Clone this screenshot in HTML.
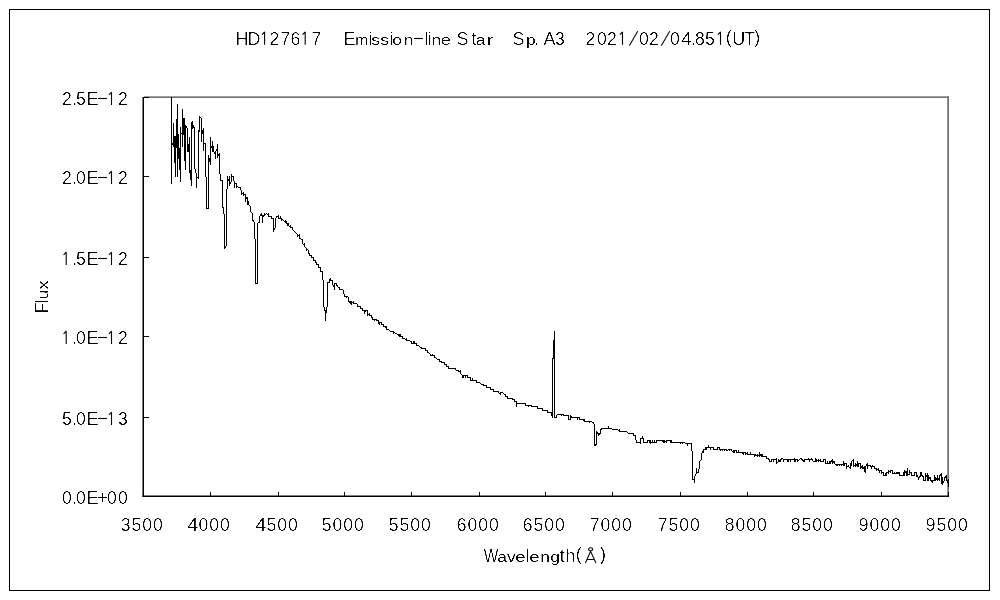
<!DOCTYPE html>
<html><head><meta charset="utf-8"><title>HD127617 spectrum</title>
<style>
html,body{margin:0;padding:0;background:#fff;}
body{width:1000px;height:600px;overflow:hidden;position:relative;}
svg{position:absolute;left:0;top:0;display:block;}
text{font-family:"Liberation Sans",sans-serif;font-size:18px;fill:#000;text-anchor:middle;}
.s{font-size:15.5px;}
</style></head><body>
<svg width="1000" height="600" viewBox="0 0 1000 600">
<defs><filter id="t" x="0" y="0" width="1000" height="600" filterUnits="userSpaceOnUse" color-interpolation-filters="sRGB"><feComponentTransfer><feFuncA type="linear" slope="3.4" intercept="-1.7"/></feComponentTransfer></filter><filter id="t3" x="0" y="0" width="1000" height="600" filterUnits="userSpaceOnUse" color-interpolation-filters="sRGB"><feComponentTransfer><feFuncA type="linear" slope="3" intercept="-1.25"/></feComponentTransfer></filter><filter id="t2" x="570" y="540" width="40" height="30" filterUnits="userSpaceOnUse" color-interpolation-filters="sRGB"><feComponentTransfer><feFuncA type="linear" slope="2.2" intercept="-0.55"/></feComponentTransfer></filter></defs>
<title>HD127617 Emission-line Star Sp. A3 2021/02/04.851(UT)</title>
<desc>Spectrum chart: Flux (0.0E+00 to 2.5E-12) versus Wavelength(Å) from 3500 to 9500.</desc>
<rect x="0" y="0" width="1000" height="600" fill="#fff"/>
<rect x="9.5" y="9.5" width="980" height="581" fill="none" stroke="#000" stroke-width="1"/>
<rect x="144" y="96.3" width="805" height="1.7" fill="#757575"/>
<rect x="947.2" y="96.3" width="1.8" height="400" fill="#757575"/>
<rect x="142.5" y="97" width="1.5" height="400" fill="#000"/>
<rect x="142.5" y="495.5" width="806.5" height="1.5" fill="#000"/>
<path d="M210 492h1v4h-1zM278 492h1v4h-1zM344 492h1v4h-1zM411 492h1v4h-1zM479 492h1v4h-1zM545 492h1v4h-1zM612 492h1v4h-1zM680 492h1v4h-1zM747 492h1v4h-1zM813 492h1v4h-1zM881 492h1v4h-1zM948 492h1v4h-1zM144 97h5v1h-5zM144 176h5v1h-5zM144 257h5v1h-5zM144 336h5v1h-5zM144 417h5v1h-5z" fill="#000" shape-rendering="crispEdges"/>
<path d="M171 97v87h1v-87zM172 143v2h1v-2zM173 123v24h1v-24zM174 136v27h1v-27zM175 136v41h1v-41zM176 119v29h1v-29zM177 104v73h1v-73zM178 134v25h1v-25zM179 148v22h1v-22zM180 127v55h1v-55zM181 133v1h1v-1zM182 109v38h1v-38zM183 118v17h1v-17zM184 118v43h1v-43zM185 125v45h1v-45zM186 126v2h1v-2zM187 128v24h1v-24zM188 144v8h1v-8zM189 137v36h1v-36zM190 170v10h1v-10zM191 122v64h1v-64zM192 121v8h1v-8zM193 125v3h1v-3zM194 127v42h1v-42zM195 169v4h1v-4zM196 173v15h1v-15zM197 177v1h1v-1zM198 130v49h1v-49zM199 116v16h1v-16zM200 117v1h1v-1zM201 118v24h1v-24zM202 130v4h1v-4zM203 128v23h1v-23zM204 143v1h1v-1zM205 143v34h1v-34zM206 177v32h1v-32zM207 208v1h1v-1zM208 155v54h1v-54zM209 158v4h1v-4zM210 137v28h1v-28zM211 146v2h1v-2zM212 141v11h1v-11zM213 146v6h1v-6zM214 152v2h1v-2zM215 151v8h1v-8zM216 149v2h1v-2zM217 144v14h1v-14zM218 154v2h1v-2zM219 153v21h1v-21zM220 174v7h1v-7zM221 180v1h1v-1zM222 180v28h1v-28zM223 207v7h1v-7zM224 214v35h1v-35zM225 246v2h1v-2zM226 189v57h1v-57zM227 176v13h1v-13zM228 179v2h1v-2zM229 176v10h1v-10zM230 182v2h1v-2zM231 174v8h1v-8zM232 176v1h1v-1zM233 176v5h1v-5zM234 181v7h1v-7zM235 183v1h1v-1zM236 183v5h1v-5zM237 186v1h1v-1zM238 187v1h1v-1zM239 187v1h1v-1zM240 187v3h1v-3zM241 190v5h1v-5zM242 193v1h1v-1zM243 192v4h1v-4zM244 194v1h1v-1zM245 194v8h1v-8zM246 197v2h1v-2zM247 197v8h1v-8zM248 201v4h1v-4zM249 205v1h1v-1zM250 206v6h1v-6zM251 212v1h1v-1zM252 213v8h1v-8zM253 220v2h1v-2zM254 222v17h1v-17zM255 239v45h1v-45zM256 283v1h1v-1zM257 223v61h1v-61zM258 222v1h1v-1zM259 216v7h1v-7zM260 214v2h1v-2zM261 213v3h1v-3zM262 215v8h1v-8zM263 215v2h1v-2zM264 213v3h1v-3zM265 214v1h1v-1zM266 213v1h1v-1zM267 214v1h1v-1zM268 213v4h1v-4zM269 216v1h1v-1zM270 216v1h1v-1zM271 216v3h1v-3zM272 218v1h1v-1zM273 218v14h1v-14zM274 228v2h1v-2zM275 218v10h1v-10zM276 216v2h1v-2zM277 216v1h1v-1zM278 215v4h1v-4zM279 218v1h1v-1zM280 216v3h1v-3zM281 218v3h1v-3zM282 219v1h1v-1zM283 220v1h1v-1zM284 221v1h1v-1zM285 220v3h1v-3zM286 221v3h1v-3zM287 223v3h1v-3zM288 223v3h1v-3zM289 226v1h1v-1zM290 225v3h1v-3zM291 227v1h1v-1zM292 227v3h1v-3zM293 230v1h1v-1zM294 231v1h1v-1zM295 232v1h1v-1zM296 233v1h1v-1zM297 234v3h1v-3zM298 235v1h1v-1zM299 234v5h1v-5zM300 238v1h1v-1zM301 239v1h1v-1zM302 239v5h1v-5zM303 244v1h1v-1zM304 243v4h1v-4zM305 247v1h1v-1zM306 248v3h1v-3zM307 249v1h1v-1zM308 250v4h1v-4zM309 253v3h1v-3zM310 255v1h1v-1zM311 255v3h1v-3zM312 257v1h1v-1zM313 257v4h1v-4zM314 260v1h1v-1zM315 260v3h1v-3zM316 262v3h1v-3zM317 264v1h1v-1zM318 264v4h1v-4zM319 267v1h1v-1zM320 267v5h1v-5zM321 271v1h1v-1zM322 271v9h1v-9zM323 280v27h1v-27zM324 307v4h1v-4zM325 310v11h1v-11zM326 307v6h1v-6zM327 282v25h1v-25zM328 282v1h1v-1zM329 279v4h1v-4zM330 278v3h1v-3zM331 280v1h1v-1zM332 280v5h1v-5zM333 285v2h1v-2zM334 283v7h1v-7zM335 283v1h1v-1zM336 283v3h1v-3zM337 285v2h1v-2zM338 287v1h1v-1zM339 287v3h1v-3zM340 289v1h1v-1zM341 289v1h1v-1zM342 289v1h1v-1zM343 290v4h1v-4zM344 294v3h1v-3zM345 296v1h1v-1zM346 296v2h1v-2zM347 296v1h1v-1zM348 297v5h1v-5zM349 301v2h1v-2zM350 301v3h1v-3zM351 301v4h1v-4zM352 302v1h1v-1zM353 301v3h1v-3zM354 303v1h1v-1zM355 303v1h1v-1zM356 303v1h1v-1zM357 304v3h1v-3zM358 306v1h1v-1zM359 306v1h1v-1zM360 306v3h1v-3zM361 308v1h1v-1zM362 308v3h1v-3zM363 310v1h1v-1zM364 310v4h1v-4zM365 310v2h1v-2zM366 310v1h1v-1zM367 310v6h1v-6zM368 314v1h1v-1zM369 313v3h1v-3zM370 315v1h1v-1zM371 315v3h1v-3zM372 317v3h1v-3zM373 319v1h1v-1zM374 319v2h1v-2zM375 319v1h1v-1zM376 319v2h1v-2zM377 320v1h1v-1zM378 320v4h1v-4zM379 322v3h1v-3zM380 322v1h1v-1zM381 322v3h1v-3zM382 324v1h1v-1zM383 324v3h1v-3zM384 326v1h1v-1zM385 326v2h1v-2zM386 326v4h1v-4zM387 329v1h1v-1zM388 329v1h1v-1zM389 330v1h1v-1zM390 331v1h1v-1zM391 331v1h1v-1zM392 331v1h1v-1zM393 331v3h1v-3zM394 332v1h1v-1zM395 333v1h1v-1zM396 333v1h1v-1zM397 334v1h1v-1zM398 334v2h1v-2zM399 334v3h1v-3zM400 334v3h1v-3zM401 336v1h1v-1zM402 336v3h1v-3zM403 338v1h1v-1zM404 338v1h1v-1zM405 339v1h1v-1zM406 338v3h1v-3zM407 340v1h1v-1zM408 340v1h1v-1zM409 340v1h1v-1zM410 341v1h1v-1zM411 341v3h1v-3zM412 343v1h1v-1zM413 341v3h1v-3zM414 341v3h1v-3zM415 343v1h1v-1zM416 343v3h1v-3zM417 345v1h1v-1zM418 345v1h1v-1zM419 346v1h1v-1zM420 347v1h1v-1zM421 347v2h1v-2zM422 348v1h1v-1zM423 348v1h1v-1zM424 348v1h1v-1zM425 348v3h1v-3zM426 350v1h1v-1zM427 350v3h1v-3zM428 352v1h1v-1zM429 353v1h1v-1zM430 354v2h1v-2zM431 355v1h1v-1zM432 354v2h1v-2zM433 355v1h1v-1zM434 355v3h1v-3zM435 357v1h1v-1zM436 358v1h1v-1zM437 359v1h1v-1zM438 359v1h1v-1zM439 359v3h1v-3zM440 361v1h1v-1zM441 361v2h1v-2zM442 362v1h1v-1zM443 362v1h1v-1zM444 362v3h1v-3zM445 364v1h1v-1zM446 364v3h1v-3zM447 366v1h1v-1zM448 366v3h1v-3zM449 368v1h1v-1zM450 368v1h1v-1zM451 368v1h1v-1zM452 368v1h1v-1zM453 368v1h1v-1zM454 368v1h1v-1zM455 368v2h1v-2zM456 370v1h1v-1zM457 370v1h1v-1zM458 370v2h1v-2zM459 371v1h1v-1zM460 370v4h1v-4zM461 374v1h1v-1zM462 375v3h1v-3zM463 375v3h1v-3zM464 375v1h1v-1zM465 375v3h1v-3zM466 375v1h1v-1zM467 375v3h1v-3zM468 377v1h1v-1zM469 377v1h1v-1zM470 377v4h1v-4zM471 380v1h1v-1zM472 378v3h1v-3zM473 380v1h1v-1zM474 380v1h1v-1zM475 380v1h1v-1zM476 380v3h1v-3zM477 382v1h1v-1zM478 382v1h1v-1zM479 382v1h1v-1zM480 383v1h1v-1zM481 384v1h1v-1zM482 384v1h1v-1zM483 384v2h1v-2zM484 385v1h1v-1zM485 385v1h1v-1zM486 385v3h1v-3zM487 387v1h1v-1zM488 387v1h1v-1zM489 387v1h1v-1zM490 387v3h1v-3zM491 389v1h1v-1zM492 389v1h1v-1zM493 389v3h1v-3zM494 391v1h1v-1zM495 391v1h1v-1zM496 391v1h1v-1zM497 391v1h1v-1zM498 391v2h1v-2zM499 393v1h1v-1zM500 392v3h1v-3zM501 392v1h1v-1zM502 392v1h1v-1zM503 393v1h1v-1zM504 394v1h1v-1zM505 394v3h1v-3zM506 396v1h1v-1zM507 396v3h1v-3zM508 398v1h1v-1zM509 398v1h1v-1zM510 398v1h1v-1zM511 398v1h1v-1zM512 398v2h1v-2zM513 399v1h1v-1zM514 399v3h1v-3zM515 401v1h1v-1zM516 401v6h1v-6zM517 403v1h1v-1zM518 403v1h1v-1zM519 403v1h1v-1zM520 403v1h1v-1zM521 403v1h1v-1zM522 403v1h1v-1zM523 403v1h1v-1zM524 403v1h1v-1zM525 403v3h1v-3zM526 405v1h1v-1zM527 405v1h1v-1zM528 405v2h1v-2zM529 405v1h1v-1zM530 405v1h1v-1zM531 405v2h1v-2zM532 406v1h1v-1zM533 406v1h1v-1zM534 406v1h1v-1zM535 406v1h1v-1zM536 406v1h1v-1zM537 406v3h1v-3zM538 408v1h1v-1zM539 408v1h1v-1zM540 408v1h1v-1zM541 408v1h1v-1zM542 408v3h1v-3zM543 410v1h1v-1zM544 410v1h1v-1zM545 410v1h1v-1zM546 410v1h1v-1zM547 410v3h1v-3zM548 412v1h1v-1zM549 412v1h1v-1zM550 412v1h1v-1zM551 412v4h1v-4zM552 358v60h1v-60zM553 340v19h1v-19zM554 331v87h1v-87zM555 417v1h1v-1zM556 415v3h1v-3zM557 414v1h1v-1zM558 414v1h1v-1zM559 414v1h1v-1zM560 414v1h1v-1zM561 414v2h1v-2zM562 414v1h1v-1zM563 414v2h1v-2zM564 415v1h1v-1zM565 415v1h1v-1zM566 415v1h1v-1zM567 415v1h1v-1zM568 415v5h1v-5zM569 419v1h1v-1zM570 415v5h1v-5zM571 416v2h1v-2zM572 417v1h1v-1zM573 417v1h1v-1zM574 417v1h1v-1zM575 417v1h1v-1zM576 417v1h1v-1zM577 417v3h1v-3zM578 417v1h1v-1zM579 417v3h1v-3zM580 419v1h1v-1zM581 419v1h1v-1zM582 419v1h1v-1zM583 419v2h1v-2zM584 419v3h1v-3zM585 421v1h1v-1zM586 421v1h1v-1zM587 421v1h1v-1zM588 421v1h1v-1zM589 421v2h1v-2zM590 421v1h1v-1zM591 421v1h1v-1zM592 422v1h1v-1zM593 422v2h1v-2zM594 424v22h1v-22zM595 444v2h1v-2zM596 431v14h1v-14zM597 432v2h1v-2zM598 433v3h1v-3zM599 433v2h1v-2zM600 429v5h1v-5zM601 428v2h1v-2zM602 428v1h1v-1zM603 428v1h1v-1zM604 428v1h1v-1zM605 428v1h1v-1zM606 428v1h1v-1zM607 428v1h1v-1zM608 426v3h1v-3zM609 428v1h1v-1zM610 428v1h1v-1zM611 428v1h1v-1zM612 429v1h1v-1zM613 429v1h1v-1zM614 429v1h1v-1zM615 429v1h1v-1zM616 429v1h1v-1zM617 429v1h1v-1zM618 430v1h1v-1zM619 429v3h1v-3zM620 431v1h1v-1zM621 431v1h1v-1zM622 431v1h1v-1zM623 431v1h1v-1zM624 431v1h1v-1zM625 431v1h1v-1zM626 431v1h1v-1zM627 432v1h1v-1zM628 433v1h1v-1zM629 433v1h1v-1zM630 433v1h1v-1zM631 433v1h1v-1zM632 433v1h1v-1zM633 433v3h1v-3zM634 435v1h1v-1zM635 435v5h1v-5zM636 440v3h1v-3zM637 442v1h1v-1zM638 442v1h1v-1zM639 442v1h1v-1zM640 438v6h1v-6zM641 438v1h1v-1zM642 436v3h1v-3zM643 438v5h1v-5zM644 442v1h1v-1zM645 442v1h1v-1zM646 442v1h1v-1zM647 440v3h1v-3zM648 440v1h1v-1zM649 440v3h1v-3zM650 440v4h1v-4zM651 442v1h1v-1zM652 440v3h1v-3zM653 442v1h1v-1zM654 440v3h1v-3zM655 442v1h1v-1zM656 440v3h1v-3zM657 440v1h1v-1zM658 440v1h1v-1zM659 440v1h1v-1zM660 440v1h1v-1zM661 440v1h1v-1zM662 440v2h1v-2zM663 440v3h1v-3zM664 440v3h1v-3zM665 441v1h1v-1zM666 440v3h1v-3zM667 440v1h1v-1zM668 440v1h1v-1zM669 440v1h1v-1zM670 440v3h1v-3zM671 440v3h1v-3zM672 442v1h1v-1zM673 442v1h1v-1zM674 442v1h1v-1zM675 442v1h1v-1zM676 442v1h1v-1zM677 442v1h1v-1zM678 442v1h1v-1zM679 442v1h1v-1zM680 442v2h1v-2zM681 442v1h1v-1zM682 442v2h1v-2zM683 442v1h1v-1zM684 442v1h1v-1zM685 443v1h1v-1zM686 443v1h1v-1zM687 443v3h1v-3zM688 443v1h1v-1zM689 443v1h1v-1zM690 443v1h1v-1zM691 443v8h1v-8zM692 451v29h1v-29zM693 479v1h1v-1zM694 476v7h1v-7zM695 474v2h1v-2zM696 468v6h1v-6zM697 472v1h1v-1zM698 469v4h1v-4zM699 461v8h1v-8zM700 460v1h1v-1zM701 453v7h1v-7zM702 451v2h1v-2zM703 449v4h1v-4zM704 449v1h1v-1zM705 447v3h1v-3zM706 447v3h1v-3zM707 447v1h1v-1zM708 445v3h1v-3zM709 447v1h1v-1zM710 447v3h1v-3zM711 447v1h1v-1zM712 447v1h1v-1zM713 447v3h1v-3zM714 449v1h1v-1zM715 449v1h1v-1zM716 449v1h1v-1zM717 447v3h1v-3zM718 447v1h1v-1zM719 447v3h1v-3zM720 449v2h1v-2zM721 449v1h1v-1zM722 449v2h1v-2zM723 449v1h1v-1zM724 449v2h1v-2zM725 449v1h1v-1zM726 449v2h1v-2zM727 450v1h1v-1zM728 449v1h1v-1zM729 449v2h1v-2zM730 449v1h1v-1zM731 449v2h1v-2zM732 451v1h1v-1zM733 450v3h1v-3zM734 450v3h1v-3zM735 450v1h1v-1zM736 450v3h1v-3zM737 452v1h1v-1zM738 450v3h1v-3zM739 452v1h1v-1zM740 452v1h1v-1zM741 452v1h1v-1zM742 452v2h1v-2zM743 452v3h1v-3zM744 452v1h1v-1zM745 452v3h1v-3zM746 453v1h1v-1zM747 452v3h1v-3zM748 454v1h1v-1zM749 454v1h1v-1zM750 452v3h1v-3zM751 454v1h1v-1zM752 454v1h1v-1zM753 454v1h1v-1zM754 454v3h1v-3zM755 454v2h1v-2zM756 455v1h1v-1zM757 454v3h1v-3zM758 455v1h1v-1zM759 452v5h1v-5zM760 454v2h1v-2zM761 454v3h1v-3zM762 454v3h1v-3zM763 456v1h1v-1zM764 456v1h1v-1zM765 456v1h1v-1zM766 456v3h1v-3zM767 458v1h1v-1zM768 458v2h1v-2zM769 459v3h1v-3zM770 461v1h1v-1zM771 459v3h1v-3zM772 459v1h1v-1zM773 459v3h1v-3zM774 459v1h1v-1zM775 459v1h1v-1zM776 458v6h1v-6zM777 462v1h1v-1zM778 459v3h1v-3zM779 460v2h1v-2zM780 459v3h1v-3zM781 458v2h1v-2zM782 458v1h1v-1zM783 459v3h1v-3zM784 459v1h1v-1zM785 459v1h1v-1zM786 459v1h1v-1zM787 459v3h1v-3zM788 459v3h1v-3zM789 459v1h1v-1zM790 459v3h1v-3zM791 459v1h1v-1zM792 459v1h1v-1zM793 459v1h1v-1zM794 458v4h1v-4zM795 459v3h1v-3zM796 459v1h1v-1zM797 459v3h1v-3zM798 460v1h1v-1zM799 459v1h1v-1zM800 458v1h1v-1zM801 458v2h1v-2zM802 459v2h1v-2zM803 460v2h1v-2zM804 459v3h1v-3zM805 459v1h1v-1zM806 459v1h1v-1zM807 459v1h1v-1zM808 458v2h1v-2zM809 459v3h1v-3zM810 459v1h1v-1zM811 458v2h1v-2zM812 459v2h1v-2zM813 461v1h1v-1zM814 461v1h1v-1zM815 458v4h1v-4zM816 459v3h1v-3zM817 460v1h1v-1zM818 459v3h1v-3zM819 460v1h1v-1zM820 459v3h1v-3zM821 461v1h1v-1zM822 461v1h1v-1zM823 459v3h1v-3zM824 459v1h1v-1zM825 459v5h1v-5zM826 463v1h1v-1zM827 461v3h1v-3zM828 463v1h1v-1zM829 461v3h1v-3zM830 461v3h1v-3zM831 460v2h1v-2zM832 459v5h1v-5zM833 461v2h1v-2zM834 461v3h1v-3zM835 464v1h1v-1zM836 464v2h1v-2zM837 464v2h1v-2zM838 464v1h1v-1zM839 464v2h1v-2zM840 464v1h1v-1zM841 464v2h1v-2zM842 464v1h1v-1zM843 461v5h1v-5zM844 463v3h1v-3zM845 463v1h1v-1zM846 463v6h1v-6zM847 466v1h1v-1zM848 465v2h1v-2zM849 467v1h1v-1zM850 463v6h1v-6zM851 461v5h1v-5zM852 460v1h1v-1zM853 459v8h1v-8zM854 465v1h1v-1zM855 463v4h1v-4zM856 464v2h1v-2zM857 461v6h1v-6zM858 463v4h1v-4zM859 463v1h1v-1zM860 463v6h1v-6zM861 466v2h1v-2zM862 465v4h1v-4zM863 467v2h1v-2zM864 466v6h1v-6zM865 466v7h1v-7zM866 464v2h1v-2zM867 463v6h1v-6zM868 465v1h1v-1zM869 465v1h1v-1zM870 465v2h1v-2zM871 466v3h1v-3zM872 465v2h1v-2zM873 466v1h1v-1zM874 466v3h1v-3zM875 468v1h1v-1zM876 468v3h1v-3zM877 469v1h1v-1zM878 468v3h1v-3zM879 470v3h1v-3zM880 470v1h1v-1zM881 470v4h1v-4zM882 472v1h1v-1zM883 472v4h1v-4zM884 475v1h1v-1zM885 473v3h1v-3zM886 472v4h1v-4zM887 472v1h1v-1zM888 470v4h1v-4zM889 471v1h1v-1zM890 470v3h1v-3zM891 470v1h1v-1zM892 470v4h1v-4zM893 473v1h1v-1zM894 472v2h1v-2zM895 473v1h1v-1zM896 472v2h1v-2zM897 472v2h1v-2zM898 472v2h1v-2zM899 472v4h1v-4zM900 475v1h1v-1zM901 475v1h1v-1zM902 475v1h1v-1zM903 472v4h1v-4zM904 470v6h1v-6zM905 471v2h1v-2zM906 471v5h1v-5zM907 468v8h1v-8zM908 474v1h1v-1zM909 470v5h1v-5zM910 472v1h1v-1zM911 472v4h1v-4zM912 475v1h1v-1zM913 475v1h1v-1zM914 472v4h1v-4zM915 472v1h1v-1zM916 472v5h1v-5zM917 475v2h1v-2zM918 477v3h1v-3zM919 476v2h1v-2zM920 472v5h1v-5zM921 472v4h1v-4zM922 475v2h1v-2zM923 476v5h1v-5zM924 480v1h1v-1zM925 473v8h1v-8zM926 475v2h1v-2zM927 473v8h1v-8zM928 475v6h1v-6zM929 477v2h1v-2zM930 477v4h1v-4zM931 480v2h1v-2zM932 480v3h1v-3zM933 480v1h1v-1zM934 475v6h1v-6zM935 477v4h1v-4zM936 478v2h1v-2zM937 475v6h1v-6zM938 478v2h1v-2zM939 475v6h1v-6zM940 474v2h1v-2zM941 473v11h1v-11zM942 477v8h1v-8zM943 481v2h1v-2zM944 477v4h1v-4zM945 476v2h1v-2zM946 475v6h1v-6zM947 480v3h1v-3zM948 479v8h1v-8z" fill="#000" shape-rendering="crispEdges"/>
<g filter="url(#t)">
<text x="241.90" y="44.80">H</text><text x="253.90" y="44.80">D</text><text transform="translate(274.50,44.80) scale(0.98,1)">2</text><text transform="translate(285.50,44.80) scale(0.98,1)">7</text><text transform="translate(295.50,44.80) scale(0.98,1)">6</text><text transform="translate(316.50,44.80) scale(0.98,1)">7</text>
<text x="349.40" y="44.80">E</text><text x="370.60" y="44.80">i</text><text x="391.70" y="44.80">i</text><text x="426.60" y="44.80">l</text><text x="429.70" y="44.80">i</text>
<text x="462.50" y="44.80">S</text><text transform="translate(474.00,44.80) scale(1.08,1)">t</text>
<text x="518.50" y="44.80">S</text><text x="536.60" y="44.80">.</text>
<text x="549.50" y="44.80">A</text><text transform="translate(560.00,44.80) scale(0.98,1)">3</text>
<text transform="translate(590.40,44.80) scale(0.98,1)">2</text><text transform="translate(602.00,44.80) scale(0.98,1)">0</text><text transform="translate(611.90,44.80) scale(0.98,1)">2</text><text transform="translate(644.00,44.80) scale(0.98,1)">0</text><text transform="translate(653.90,44.80) scale(0.98,1)">2</text><text transform="translate(675.00,44.80) scale(0.98,1)">0</text><text transform="translate(686.50,44.80) scale(1.1,1)">4</text><text x="693.50" y="44.80">.</text><text transform="translate(699.90,44.80) scale(0.98,1)">8</text><text transform="translate(709.90,44.80) scale(0.98,1)">5</text><text x="728.80" y="42.70">(</text><text x="738.75" y="44.80">U</text><text x="749.50" y="44.80">T</text><text x="757.20" y="42.70">)</text>
<text transform="translate(66.90,105.00) scale(0.98,1)">2</text><text x="74.60" y="105.00">.</text><text transform="translate(81.00,105.00) scale(0.98,1)">5</text><text x="92.50" y="105.00">E</text><text transform="translate(123.00,105.00) scale(0.98,1)">2</text>
<text transform="translate(66.90,184.00) scale(0.98,1)">2</text><text x="74.60" y="184.00">.</text><text transform="translate(81.00,184.00) scale(0.98,1)">0</text><text x="92.50" y="184.00">E</text><text transform="translate(123.00,184.00) scale(0.98,1)">2</text>
<text x="74.60" y="265.00">.</text><text transform="translate(81.00,265.00) scale(0.98,1)">5</text><text x="92.50" y="265.00">E</text><text transform="translate(123.00,265.00) scale(0.98,1)">2</text>
<text x="74.60" y="344.00">.</text><text transform="translate(81.00,344.00) scale(0.98,1)">0</text><text x="92.50" y="344.00">E</text><text transform="translate(123.00,344.00) scale(0.98,1)">2</text>
<text transform="translate(66.90,425.00) scale(0.98,1)">5</text><text x="74.60" y="425.00">.</text><text transform="translate(81.00,425.00) scale(0.98,1)">0</text><text x="92.50" y="425.00">E</text><text transform="translate(123.00,425.00) scale(0.98,1)">3</text>
<text transform="translate(66.90,504.00) scale(0.98,1)">0</text><text x="74.60" y="504.00">.</text><text transform="translate(81.00,504.00) scale(0.98,1)">0</text><text x="92.50" y="504.00">E</text><text x="102.50" y="504.00">+</text><text transform="translate(112.00,504.00) scale(0.98,1)">0</text><text transform="translate(123.00,504.00) scale(0.98,1)">0</text>
<text transform="translate(125.75,530.60) scale(0.98,1)">3</text><text transform="translate(136.45,530.60) scale(0.98,1)">5</text><text transform="translate(147.15,530.60) scale(0.98,1)">0</text><text transform="translate(157.85,530.60) scale(0.98,1)">0</text>
<text transform="translate(192.75,530.60) scale(1.1,1)">4</text><text transform="translate(203.45,530.60) scale(0.98,1)">0</text><text transform="translate(214.15,530.60) scale(0.98,1)">0</text><text transform="translate(224.85,530.60) scale(0.98,1)">0</text>
<text transform="translate(260.75,530.60) scale(1.1,1)">4</text><text transform="translate(271.45,530.60) scale(0.98,1)">5</text><text transform="translate(282.15,530.60) scale(0.98,1)">0</text><text transform="translate(292.85,530.60) scale(0.98,1)">0</text>
<text transform="translate(326.75,530.60) scale(0.98,1)">5</text><text transform="translate(337.45,530.60) scale(0.98,1)">0</text><text transform="translate(348.15,530.60) scale(0.98,1)">0</text><text transform="translate(358.85,530.60) scale(0.98,1)">0</text>
<text transform="translate(393.75,530.60) scale(0.98,1)">5</text><text transform="translate(404.45,530.60) scale(0.98,1)">5</text><text transform="translate(415.15,530.60) scale(0.98,1)">0</text><text transform="translate(425.85,530.60) scale(0.98,1)">0</text>
<text transform="translate(461.75,530.60) scale(0.98,1)">6</text><text transform="translate(472.45,530.60) scale(0.98,1)">0</text><text transform="translate(483.15,530.60) scale(0.98,1)">0</text><text transform="translate(493.85,530.60) scale(0.98,1)">0</text>
<text transform="translate(527.75,530.60) scale(0.98,1)">6</text><text transform="translate(538.45,530.60) scale(0.98,1)">5</text><text transform="translate(549.15,530.60) scale(0.98,1)">0</text><text transform="translate(559.85,530.60) scale(0.98,1)">0</text>
<text transform="translate(594.75,530.60) scale(0.98,1)">7</text><text transform="translate(605.45,530.60) scale(0.98,1)">0</text><text transform="translate(616.15,530.60) scale(0.98,1)">0</text><text transform="translate(626.85,530.60) scale(0.98,1)">0</text>
<text transform="translate(662.75,530.60) scale(0.98,1)">7</text><text transform="translate(673.45,530.60) scale(0.98,1)">5</text><text transform="translate(684.15,530.60) scale(0.98,1)">0</text><text transform="translate(694.85,530.60) scale(0.98,1)">0</text>
<text transform="translate(729.75,530.60) scale(0.98,1)">8</text><text transform="translate(740.45,530.60) scale(0.98,1)">0</text><text transform="translate(751.15,530.60) scale(0.98,1)">0</text><text transform="translate(761.85,530.60) scale(0.98,1)">0</text>
<text transform="translate(795.75,530.60) scale(0.98,1)">8</text><text transform="translate(806.45,530.60) scale(0.98,1)">5</text><text transform="translate(817.15,530.60) scale(0.98,1)">0</text><text transform="translate(827.85,530.60) scale(0.98,1)">0</text>
<text transform="translate(863.75,530.60) scale(0.98,1)">9</text><text transform="translate(874.45,530.60) scale(0.98,1)">0</text><text transform="translate(885.15,530.60) scale(0.98,1)">0</text><text transform="translate(895.85,530.60) scale(0.98,1)">0</text>
<text transform="translate(930.75,530.60) scale(0.98,1)">9</text><text transform="translate(941.45,530.60) scale(0.98,1)">5</text><text transform="translate(952.15,530.60) scale(0.98,1)">0</text><text transform="translate(962.85,530.60) scale(0.98,1)">0</text>
<text transform="translate(491.00,561.80) scale(0.86,1)">W</text><text x="527.60" y="561.80">l</text><text transform="translate(562.20,561.80) scale(1.08,1)">t</text><text x="570.20" y="561.80">h</text>
<text x="578.80" y="559.70">(</text><text x="603.00" y="559.70">)</text><text transform="translate(48,0) rotate(-90) translate(-307.90,0.00) scale(1.0,1)">F</text><text transform="translate(48,0) rotate(-90) translate(-301.50,0.00) scale(1.0,1)">l</text></g>
<g filter="url(#t3)">
<text x="361.60" y="44.80" class="s">m</text><text transform="translate(375.60,44.80) scale(1.13,1)" class="s">s</text><text transform="translate(384.60,44.80) scale(1.13,1)" class="s">s</text><text transform="translate(397.00,44.80) scale(1.13,1)" class="s">o</text><text transform="translate(408.60,44.80) scale(1.13,1)" class="s">n</text><text transform="translate(436.40,44.80) scale(1.13,1)" class="s">n</text><text transform="translate(446.00,44.80) scale(1.2,1)" class="s">e</text><text transform="translate(480.60,44.80) scale(1.13,1)" class="s">a</text><text transform="translate(489.90,44.80) scale(1.45,1)" class="s">r</text><text transform="translate(530.90,44.80) scale(1.13,1)" class="s">p</text><text transform="translate(502.20,561.80) scale(1.13,1)" class="s">a</text><text transform="translate(511.40,561.80) scale(1.13,1)" class="s">v</text><text transform="translate(520.40,561.80) scale(1.2,1)" class="s">e</text><text transform="translate(534.50,561.80) scale(1.2,1)" class="s">e</text><text transform="translate(545.00,561.80) scale(1.13,1)" class="s">n</text><text transform="translate(555.00,561.80) scale(1.13,1)" class="s">g</text><text transform="translate(48,0) rotate(-90) translate(-294.60,0.00) scale(1.13,1)" class="s">u</text><text transform="translate(48,0) rotate(-90) translate(-284.90,0.00) scale(1.13,1)" class="s">x</text>
</g>
<path d="M264.60 44.80V32.00l-2.6 2.7" fill="none" stroke="#000" stroke-width="1.1" stroke-linejoin="bevel"/>
<path d="M305.20 44.80V32.00l-2.6 2.7" fill="none" stroke="#000" stroke-width="1.1" stroke-linejoin="bevel"/>
<rect x="413.90" y="37.95" width="9" height="1.1" fill="#000"/>
<path d="M622.50 44.80V32.00l-2.6 2.7" fill="none" stroke="#000" stroke-width="1.1" stroke-linejoin="bevel"/>
<path d="M629.30 45.80L637.70 31.20" fill="none" stroke="#000" stroke-width="1.05"/>
<path d="M661.30 45.80L669.70 31.20" fill="none" stroke="#000" stroke-width="1.05"/>
<path d="M720.50 44.80V32.00l-2.6 2.7" fill="none" stroke="#000" stroke-width="1.1" stroke-linejoin="bevel"/>
<rect x="98.00" y="97.95" width="9" height="1.1" fill="#000"/>
<path d="M111.50 105.00V92.20l-2.6 2.7" fill="none" stroke="#000" stroke-width="1.1" stroke-linejoin="bevel"/>
<rect x="98.00" y="176.95" width="9" height="1.1" fill="#000"/>
<path d="M111.50 184.00V171.20l-2.6 2.7" fill="none" stroke="#000" stroke-width="1.1" stroke-linejoin="bevel"/>
<path d="M66.20 265.00V252.20l-2.6 2.7" fill="none" stroke="#000" stroke-width="1.1" stroke-linejoin="bevel"/>
<rect x="98.00" y="257.95" width="9" height="1.1" fill="#000"/>
<path d="M111.50 265.00V252.20l-2.6 2.7" fill="none" stroke="#000" stroke-width="1.1" stroke-linejoin="bevel"/>
<path d="M66.20 344.00V331.20l-2.6 2.7" fill="none" stroke="#000" stroke-width="1.1" stroke-linejoin="bevel"/>
<rect x="98.00" y="336.95" width="9" height="1.1" fill="#000"/>
<path d="M111.50 344.00V331.20l-2.6 2.7" fill="none" stroke="#000" stroke-width="1.1" stroke-linejoin="bevel"/>
<rect x="98.00" y="417.95" width="9" height="1.1" fill="#000"/>
<path d="M111.50 425.00V412.20l-2.6 2.7" fill="none" stroke="#000" stroke-width="1.1" stroke-linejoin="bevel"/>
<g fill="none" stroke="#000" stroke-width="1.05" stroke-linecap="butt"><ellipse cx="590.6" cy="549.3" rx="2.1" ry="1.6"/><path d="M585.4 563L590.6 551.3L595.9 563M587.4 559.4H593.9"/></g>
</svg>
</body></html>
